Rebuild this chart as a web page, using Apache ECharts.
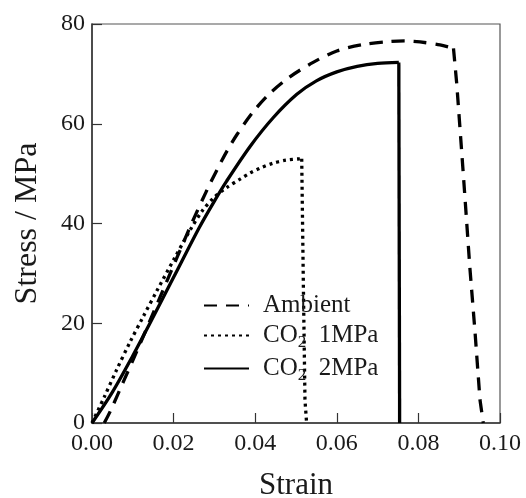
<!DOCTYPE html>
<html><head><meta charset="utf-8">
<script src="https://cdn.jsdelivr.net/npm/echarts@6/dist/echarts.min.js"></script>
<style>html,body{margin:0;padding:0;background:#fff}#c{width:526px;height:498px}</style>
</head><body><div id="c"></div>
<script>
const xTicks = [0, 0.02, 0.04, 0.06, 0.08, 0.10];
const yTicks = [0, 20, 40, 60, 80];
const seriesNames = ['Ambient', 'CO2 1MPa', 'CO2 2MPa'];

// loading curves (up to fracture point)
const ambientStrain = [0.0030, 0.0045, 0.0077, 0.0110, 0.0142, 0.0175, 0.0210, 0.0248, 0.0280, 0.0306, 0.0330, 0.0355, 0.0395, 0.0436, 0.0485, 0.0542, 0.0600, 0.0665, 0.0730, 0.0770, 0.0804, 0.0853, 0.0886];
const ambientStress = [0, 2.4, 8.3, 14.4, 20.5, 26.8, 33.5, 40.7, 46.4, 50.7, 54.4, 57.8, 62.4, 66.1, 69.4, 72.3, 74.6, 75.9, 76.5, 76.6, 76.4, 75.8, 75.1];
// fracture drop
const ambientDropStrain = [0.0886, 0.0894, 0.0910, 0.0926, 0.0939, 0.0951, 0.0959];
const ambientDropStress = [75.1, 68, 50, 31.3, 18, 4.6, 0];

const co2_1Strain = [0, 0.0030, 0.0060, 0.0093, 0.0126, 0.0159, 0.0200, 0.0240, 0.0270, 0.0300, 0.0330, 0.0363, 0.0387, 0.0412, 0.0444, 0.0475, 0.0514];
const co2_1Stress = [0, 5.2, 10.6, 16.2, 21.4, 26.5, 32.7, 38.6, 42.5, 45.3, 47.2, 48.9, 50.1, 51.1, 52.1, 52.7, 53.0];
const co2_1DropStrain = [0.0514, 0.0518, 0.0522, 0.0526];
const co2_1DropStress = [53.0, 28, 4.6, 0];

const co2_2Strain = [0, 0.0050, 0.0100, 0.0142, 0.0200, 0.0263, 0.0300, 0.0330, 0.0387, 0.0444, 0.0502, 0.0550, 0.0600, 0.0650, 0.0700, 0.0752];
const co2_2Stress = [0, 6.2, 13.5, 20.0, 29.2, 39.2, 44.5, 48.5, 55.4, 61.2, 65.9, 68.6, 70.4, 71.5, 72.1, 72.3];
const co2_2DropStrain = [0.0752, 0.0754];
const co2_2DropStress = [72.3, 0];

const zip = (a, b) => a.map((v, i) => [v, b[i]]);
const FONT = '"Liberation Serif", "DejaVu Serif", serif';
const TXT = '#1a1a1a';
const styles = [
  {color: '#000', width: 3.3, type: [13, 9]},
  {color: '#000', width: 3.3, type: [3, 4]},
  {color: '#000', width: 3.3, type: 'solid'}
];

const chart = echarts.init(document.getElementById('c'), null, {renderer: 'canvas'});
const axisCommon = {
  axisLine: {show: true, onZero: false, lineStyle: {color: '#333', width: 1.5}},
  axisTick: {show: true, inside: true, length: 10, lineStyle: {color: '#333', width: 1.2}},
  splitLine: {show: false},
};
const mk = (i, data, smooth) => ({
  name: seriesNames[i], type: 'line', data: data, showSymbol: false, symbol: 'none',
  smooth: smooth, lineStyle: styles[i], color: '#000'
});
chart.setOption({
  animation: false,
  backgroundColor: '#fff',
  grid: {left: 92, right: 26, top: 24, bottom: 75, show: true, borderColor: '#555', borderWidth: 1.2,
         outerBoundsMode: 'none', containLabel: false},
  legend: {
    left: 203, top: 293, padding: 0, orient: 'vertical', itemGap: 5, itemWidth: 45, itemHeight: 20,
    data: seriesNames,
    itemStyle: {opacity: 0},
    textStyle: {fontFamily: FONT, fontSize: 25, color: TXT,
      rich: {sub: {fontFamily: FONT, fontSize: 17, color: TXT, padding: [14, 0, 0, 0]},
             f: {fontFamily: FONT, fontSize: 25, color: TXT, padding: [0, 0, 0, 9]},
             n: {fontFamily: FONT, fontSize: 25, color: TXT}}},
    formatter: function (name) {
      if (name.indexOf('CO2') === 0) return '{f|CO}{sub|2}{n|  ' + name.slice(4) + '}';
      return '{f|' + name + '}';
    }
  },
  xAxis: Object.assign({
    type: 'value', min: 0, max: 0.1, interval: 0.02,
    name: 'Strain', nameLocation: 'middle', nameGap: 47,
    nameTextStyle: {fontFamily: FONT, fontSize: 31, color: TXT},
    axisLabel: {fontFamily: FONT, fontSize: 24, color: TXT, margin: 9,
      formatter: v => v.toFixed(2)}
  }, axisCommon),
  yAxis: Object.assign({
    type: 'value', min: 0, max: 80, interval: 20,
    name: 'Stress / MPa', nameLocation: 'middle', nameGap: 48, nameRotate: 90,
    nameTextStyle: {fontFamily: FONT, fontSize: 32, color: TXT},
    axisLabel: {fontFamily: FONT, fontSize: 24, color: TXT, margin: 7}
  }, axisCommon),
  series: [
    mk(0, zip(ambientStrain, ambientStress), 0.3),
    mk(0, zip(ambientDropStrain, ambientDropStress), false),
    mk(1, zip(co2_1Strain, co2_1Stress), 0.3),
    mk(1, zip(co2_1DropStrain, co2_1DropStress), false),
    mk(2, zip(co2_2Strain, co2_2Stress), 0.3),
    mk(2, zip(co2_2DropStrain, co2_2DropStress), false)
  ]
});
</script></body></html>
